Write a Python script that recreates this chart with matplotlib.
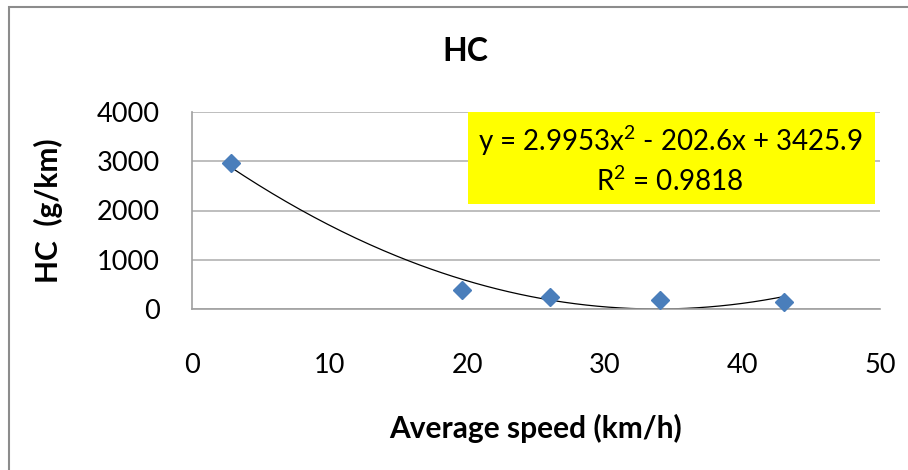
import numpy as np
import matplotlib
matplotlib.use("Agg")
import matplotlib.pyplot as plt
from matplotlib.patches import Rectangle

plt.rcParams['font.family'] = ['Lato', 'DejaVu Sans']
plt.rcParams['mathtext.fontset'] = 'custom'
plt.rcParams['mathtext.rm'] = 'Lato'
plt.rcParams['mathtext.it'] = 'Lato'
plt.rcParams['mathtext.default'] = 'rm'

# Data
speed = [2.8, 19.6, 26.0, 34.0, 43.0]
hc = [2958, 386, 250, 185, 142]
trend_coef = [2.9953, -202.6, 3425.9]
r2 = 0.9818
title = "HC"
xlabel = "Average speed (km/h)"
ylabel = "HC  (g/km)"
xticks = [0, 10, 20, 30, 40, 50]
yticks = [0, 1000, 2000, 3000, 4000]

W, H = 908, 470
fig = plt.figure(figsize=(W / 100, H / 100), dpi=100)
fig.patch.set_facecolor('white')

# outer chart border (top and left visible)
fig.add_artist(Rectangle((9 / W, -0.1), 1.2, (H - 7) / H + 0.1, transform=fig.transFigure,
                         fill=False, edgecolor='#8c8c8c', linewidth=1.5))

ax = fig.add_axes([192 / W, 1 - 309 / H, (880 - 192) / W, (309 - 112) / H])
ax.set_xlim(0, 50)
ax.set_ylim(0, 4000)
ax.set_xticks(xticks)
ax.set_yticks(yticks)
ax.grid(axis='y', color='#b3b3b3', linewidth=1.2)
ax.set_axisbelow(True)
for s in ['top', 'right']:
    ax.spines[s].set_visible(False)
for s in ['left', 'bottom']:
    ax.spines[s].set_color('#a0a0a0')
    ax.spines[s].set_linewidth(1.2)
ax.tick_params(axis='both', length=0, labelsize=19.5, colors='black')
ax.tick_params(axis='y', pad=23)
ax.tick_params(axis='x', pad=32)

# trendline
xs = np.linspace(min(speed), max(speed), 200)
ax.plot(xs, np.polyval(trend_coef, xs), color='black', linewidth=0.9, zorder=2)
ax.plot(speed, hc, linestyle='none', marker='D', markersize=9.5,
        color='#4a7ebb', markeredgecolor='#4a7ebb', zorder=3, clip_on=False)

# equation box
ax.add_patch(Rectangle((20.06, 2132), 49.64 - 20.06, 4000 - 2132, facecolor='#ffff00',
                       edgecolor='none', zorder=4, clip_on=False))
eq = "y = %.4fx$^{2}$ - %.1fx + %.1f" % (trend_coef[0], -trend_coef[1], trend_coef[2])
fig.text(670 / W, 1 - 141 / H, eq, ha='center', va='center', fontsize=20, zorder=5)
fig.text(670 / W, 1 - 181 / H, "R$^{2}$ = %.4f" % r2, ha='center', va='center', fontsize=20, zorder=5)

fig.text(465 / W, 1 - 52 / H, title, ha='center', va='center', fontsize=23, fontweight='bold')
fig.text(536 / W, 1 - 428 / H, xlabel, ha='center', va='center', fontsize=21.5, fontweight='bold')
fig.text(48 / W, 1 - 211 / H, ylabel, ha='center', va='center', fontsize=21.5, fontweight='bold',
         rotation=90)

fig.savefig("out.png", dpi=100)
